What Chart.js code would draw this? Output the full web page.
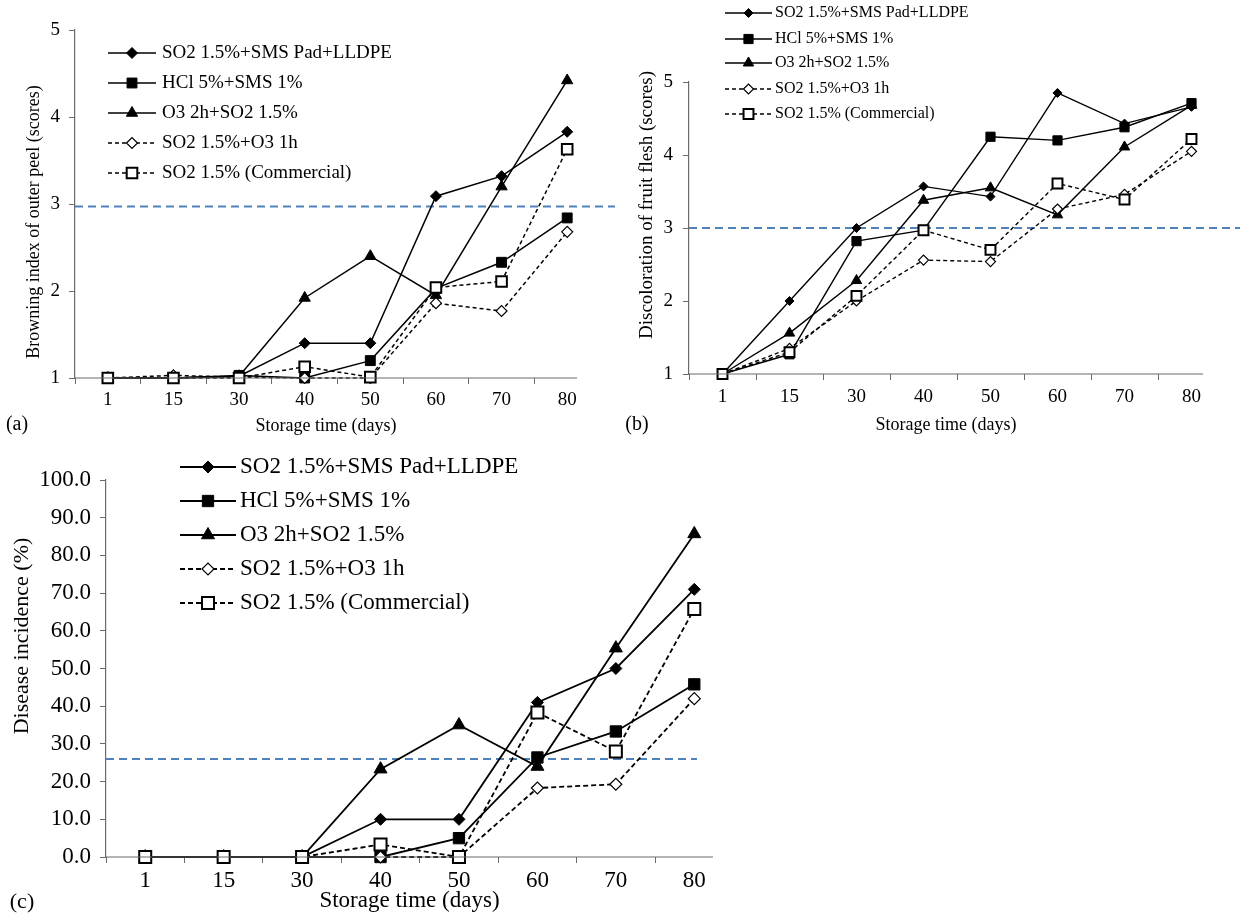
<!DOCTYPE html>
<html>
<head>
<meta charset="utf-8">
<title>Storage quality of treated fruit</title>
<script src="https://cdn.jsdelivr.net/npm/chart.js@4.4.0/dist/chart.umd.min.js"></script>
<style>
  html, body { margin: 0; padding: 0; background: #fff; }
  body { width: 1244px; height: 913px; position: relative; overflow: hidden; }
  canvas { position: absolute; }
</style>
</head>
<body>
<canvas id="panelA" width="620" height="440" style="left:0px;top:0px"></canvas>
<canvas id="panelB" width="624" height="440" style="left:620px;top:0px"></canvas>
<canvas id="panelC" width="744" height="473" style="left:0px;top:440px"></canvas>
<script>
// Storage days (category axis shared by all three panels)
const days = ['1', '15', '30', '40', '50', '60', '70', '80'];

// Treatment names
const treatments = [
  'SO2 1.5%+SMS Pad+LLDPE',
  'HCl 5%+SMS 1%',
  'O3 2h+SO2 1.5%',
  'SO2 1.5%+O3 1h',
  'SO2 1.5% (Commercial)'
];

// (a) Browning index of outer peel (scores)
const browningPadLldpe   = [1.00, 1.00, 1.02, 1.40, 1.40, 3.09, 3.32, 3.83];
const browningHclSms     = [1.00, 1.00, 1.03, 1.00, 1.20, 2.03, 2.33, 2.84];
const browningO3So2      = [1.00, 1.00, 1.02, 1.92, 2.40, 1.95, 3.20, 4.42];
const browningSo2O3      = [1.00, 1.03, 1.01, 1.00, 1.00, 1.86, 1.77, 2.68];
const browningCommercial = [1.00, 1.00, 1.00, 1.13, 1.01, 2.04, 2.11, 3.63];
const browningLimit = 2.97;

// (b) Discoloration of fruit flesh (scores)
const fleshPadLldpe   = [1.00, 2.00, 3.00, 3.57, 3.43, 4.85, 4.43, 4.66];
const fleshHclSms     = [1.00, 1.27, 2.82, 2.97, 4.25, 4.20, 4.38, 4.71];
const fleshO3So2      = [1.00, 1.56, 2.28, 3.38, 3.55, 3.18, 4.11, 4.68];
const fleshSo2O3      = [1.00, 1.35, 2.00, 2.56, 2.54, 3.26, 3.46, 4.05];
const fleshCommercial = [1.00, 1.30, 2.07, 2.97, 2.70, 3.61, 3.39, 4.22];
const fleshLimit = 3.0;

// (c) Disease incidence (%)
const diseasePadLldpe   = [0, 0, 0, 10.0, 10.0, 41.0, 50.0, 71.0];
const diseaseHclSms     = [0, 0, 0, 0.0, 5.0, 26.4, 33.3, 45.8];
const diseaseO3So2      = [0, 0, 0, 23.3, 35.0, 24.0, 55.4, 85.7];
const diseaseSo2O3      = [0, 0, 0, 0.0, 0.0, 18.3, 19.3, 42.0];
const diseaseCommercial = [0, 0, 0, 3.3, 0.0, 38.3, 28.0, 65.8];
const diseaseLimit = 26;

const xAxisTitle = 'Storage time (days)';

const SERIF = '"Liberation Serif", "Times New Roman", Times, serif';
const AXIS_GRAY = '#6b6b6b';
const LIMIT_BLUE = '#4f81bd';

Chart.defaults.font.family = SERIF;
Chart.defaults.color = '#000';

// Horizontal dashed limit line, stretched past the plot to a given x
const limitLine = {
  id: 'limitLine',
  beforeDatasetsDraw(chart, args, opts) {
    const y = chart.scales.y.getPixelForValue(opts.value);
    const ctx = chart.ctx;
    ctx.save();
    ctx.strokeStyle = LIMIT_BLUE;
    ctx.lineWidth = 2;
    ctx.setLineDash([8, 5]);
    ctx.beginPath();
    ctx.moveTo(chart.chartArea.left, y);
    ctx.lineTo(opts.xEnd, y);
    ctx.stroke();
    ctx.restore();
  }
};

// Stacked legend rows: line sample with centred marker, then the label
const rowLegend = {
  id: 'rowLegend',
  afterDraw(chart, args, opts) {
    const ctx = chart.ctx;
    ctx.save();
    chart.data.datasets.forEach((ds, i) => {
      const y = opts.rows[i];
      ctx.strokeStyle = ds.borderColor;
      ctx.lineWidth = ds.borderWidth;
      ctx.setLineDash(ds.borderDash || []);
      ctx.beginPath();
      ctx.moveTo(opts.x0, y);
      ctx.lineTo(opts.x1, y);
      ctx.stroke();
      ctx.setLineDash([]);
      ctx.fillStyle = ds.pointBackgroundColor;
      ctx.strokeStyle = ds.pointBorderColor;
      ctx.lineWidth = ds.pointBorderWidth;
      Chart.helpers.drawPoint(ctx, {
        pointStyle: ds.pointStyle,
        radius: ds.pointRadius,
        borderWidth: ds.pointBorderWidth,
        rotation: 0
      }, (opts.x0 + opts.x1) / 2, y);
      ctx.fillStyle = '#000';
      ctx.font = opts.fontSize + 'px ' + SERIF;
      ctx.textAlign = 'left';
      ctx.textBaseline = 'middle';
      ctx.fillText(ds.label, opts.textX, y);
    });
    ctx.restore();
  }
};

// Axis line (ending where the panel is trimmed), axis titles and the panel letter
const panelFrame = {
  id: 'panelFrame',
  afterDraw(chart, args, opts) {
    const ctx = chart.ctx;
    const area = chart.chartArea;
    ctx.save();
    // horizontal axis line
    ctx.strokeStyle = AXIS_GRAY;
    ctx.lineWidth = 1.2;
    ctx.beginPath();
    ctx.moveTo(area.left, area.bottom);
    ctx.lineTo(opts.axisEnd, area.bottom);
    ctx.stroke();

    ctx.fillStyle = '#000';
    ctx.textAlign = 'center';
    ctx.textBaseline = 'middle';
    // x title, centred on the visible axis
    ctx.font = opts.xTitle.size + 'px ' + SERIF;
    ctx.fillText(opts.xTitle.text, (area.left + opts.axisEnd) / 2, opts.xTitle.y);
    // y title, rotated
    ctx.save();
    ctx.translate(opts.yTitle.x, opts.yTitle.y);
    ctx.rotate(-Math.PI / 2);
    ctx.font = opts.yTitle.size + 'px ' + SERIF;
    ctx.fillText(opts.yTitle.text, 0, 0);
    ctx.restore();
    // panel letter
    ctx.font = opts.tag.size + 'px ' + SERIF;
    ctx.fillText(opts.tag.text, opts.tag.x, opts.tag.y);
    ctx.restore();
  }
};

function makeSeries(values, st) {
  const styles = [
    { shape: 'rectRot',  r: st.diamond, fill: '#000', dash: [],     bw: 1 },
    { shape: 'rect',     r: st.square,  fill: '#000', dash: [],     bw: 1 },
    { shape: 'triangle', r: st.tri,     fill: '#000', dash: [],     bw: 1 },
    { shape: 'rectRot',  r: st.openDiamond, fill: '#fff', dash: st.dash, bw: 1.2 },
    { shape: 'rect',     r: st.openSquare,  fill: '#fff', dash: st.dash, bw: st.openSquareBorder }
  ];
  return values.map((vals, i) => ({
    label: treatments[i],
    data: vals,
    borderColor: '#000',
    borderWidth: st.lineWidth,
    borderDash: styles[i].dash,
    tension: 0,
    fill: false,
    pointStyle: styles[i].shape,
    pointRadius: styles[i].r,
    pointHoverRadius: styles[i].r,
    pointBackgroundColor: styles[i].fill,
    pointBorderColor: '#000',
    pointBorderWidth: styles[i].bw,
    order: values.length - i,
    clip: false
  }));
}

function makePanel(p) {
  const tickFont = { family: SERIF, size: p.tickSize };
  return new Chart(document.getElementById(p.id), {
    type: 'line',
    data: { labels: days, datasets: makeSeries(p.values, p.style) },
    options: {
      responsive: false,
      animation: false,
      events: [],
      layout: { padding: { left: 0, top: p.padTop, right: p.padRight, bottom: 0 } },
      plugins: {
        legend: { display: false },
        tooltip: { enabled: false },
        limitLine: { value: p.limit, xEnd: p.limitEnd },
        rowLegend: p.legend,
        panelFrame: p.frame
      },
      scales: {
        x: {
          type: 'category',
          offset: true,
          grid: {
            display: true, offset: true, drawOnChartArea: false, drawTicks: true,
            tickLength: 6, lineWidth: 1,
            // the closing boundary mark (no tick of its own) lies beyond the trimmed axis
            color: c => (c.tick ? AXIS_GRAY : 'rgba(0,0,0,0)')
          },
          border: { display: false },
          ticks: { font: tickFont, color: '#000', padding: p.xTickPad, maxRotation: 0, autoSkip: false },
          title: { display: false },
          afterFit: s => { s.height = p.xHeight; }
        },
        y: {
          min: p.yMin,
          max: p.yMax,
          ticks: { stepSize: p.yStep, font: tickFont, color: '#000', padding: p.yTickPad,
                   callback: v => p.yFormat(v) },
          grid: { display: true, drawOnChartArea: false, drawTicks: true, tickLength: 6,
                  color: AXIS_GRAY, lineWidth: 1 },
          border: { display: true, color: AXIS_GRAY, width: 1.2 },
          title: { display: false },
          afterFit: s => { s.width = p.yWidth; }
        }
      }
    },
    plugins: [limitLine, rowLegend, panelFrame]
  });
}

// (a) outer peel browning
makePanel({
  id: 'panelA',
  values: [browningPadLldpe, browningHclSms, browningO3So2, browningSo2O3, browningCommercial],
  style: { diamond: 5.5, square: 7, tri: 6.5, openDiamond: 5.5, openSquare: 7.5, openSquareBorder: 2,
           lineWidth: 1.5, dash: [4, 3] },
  yMin: 1, yMax: 5, yStep: 1, yFormat: v => String(v),
  tickSize: 19,
  padTop: 30, padRight: 20, yWidth: 75, xHeight: 62,
  xTickPad: 5, yTickPad: 9,
  limit: browningLimit, limitEnd: 615,
  legend: { x0: 108, x1: 156, textX: 162, rows: [53, 83, 113, 143, 173], fontSize: 19 },
  frame: {
    axisEnd: 577,
    xTitle: { text: xAxisTitle, y: 426, size: 18 },
    yTitle: { text: 'Browning index of outer peel (scores)', x: 34, y: 222, size: 18 },
    tag: { text: '(a)', x: 17, y: 425, size: 20 }
  }
});

// (b) fruit flesh discoloration
makePanel({
  id: 'panelB',
  values: [fleshPadLldpe, fleshHclSms, fleshO3So2, fleshSo2O3, fleshCommercial],
  style: { diamond: 4.5, square: 6.5, tri: 6, openDiamond: 5, openSquare: 7, openSquareBorder: 2,
           lineWidth: 1.4, dash: [4, 3] },
  yMin: 1, yMax: 5, yStep: 1, yFormat: v => String(v),
  tickSize: 19,
  padTop: 82, padRight: 19, yWidth: 69, xHeight: 66,
  xTickPad: 6, yTickPad: 10,
  limit: fleshLimit, limitEnd: 620,
  legend: { x0: 105, x1: 152, textX: 155, rows: [13, 39, 63, 89, 114], fontSize: 16 },
  frame: {
    axisEnd: 583,
    xTitle: { text: xAxisTitle, y: 425, size: 18 },
    yTitle: { text: 'Discoloration of fruit flesh (scores)', x: 27, y: 205, size: 19 },
    tag: { text: '(b)', x: 17, y: 425, size: 20 }
  }
});

// (c) disease incidence
makePanel({
  id: 'panelC',
  values: [diseasePadLldpe, diseaseHclSms, diseaseO3So2, diseaseSo2O3, diseaseCommercial],
  style: { diamond: 6, square: 8, tri: 7.5, openDiamond: 6, openSquare: 8.5, openSquareBorder: 2,
           lineWidth: 1.8, dash: [5, 3] },
  yMin: 0, yMax: 100, yStep: 10, yFormat: v => v.toFixed(1),
  tickSize: 23,
  padTop: 40, padRight: 2, yWidth: 106, xHeight: 56,
  xTickPad: 4, yTickPad: 9,
  limit: diseaseLimit, limitEnd: 697,
  legend: { x0: 180, x1: 236, textX: 240, rows: [27, 61, 95, 129, 163], fontSize: 23 },
  frame: {
    axisEnd: 713,
    xTitle: { text: xAxisTitle, y: 461, size: 23 },
    yTitle: { text: 'Disease incidence (%)', x: 22, y: 196, size: 22 },
    tag: { text: '(c)', x: 22, y: 462, size: 22 }
  }
});
</script>
</body>
</html>
